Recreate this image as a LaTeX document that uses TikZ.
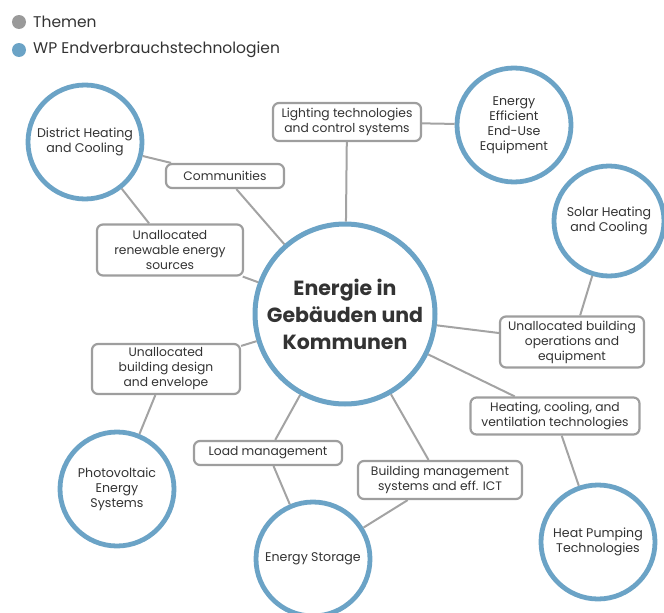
\documentclass[tikz,border=0pt]{standalone}
\usepackage{fontspec}
\setmainfont{Poppins}
\definecolor{wpblue}{HTML}{6BA3C6}
\definecolor{boxgray}{HTML}{9E9E9E}
\definecolor{linkgray}{HTML}{A3A3A3}
\definecolor{dotgray}{HTML}{9A9A9A}
\definecolor{txt}{HTML}{333333}
\begin{document}
\begin{tikzpicture}[x=1pt,y=-1pt,
  topic/.style={draw=boxgray, line width=2.2pt, rounded corners=6pt, fill=white,
    align=center, text=txt, font=\fontsize{12.3}{15}\selectfont, inner sep=0pt},
  wp/.style={circle, draw=wpblue, line width=4.8pt, fill=white, align=center,
    text=txt, font=\fontsize{12.6}{15}\selectfont, inner sep=0pt, minimum size=114pt},
  link/.style={draw=linkgray, line width=2pt},
  legenddot/.style={circle, inner sep=0pt, minimum size=14pt},
  legendtext/.style={anchor=west, text=txt, font=\fontsize{15.5}{18}\selectfont, inner sep=0pt}]
\useasboundingbox (0,0) rectangle (664,613);
\clip (0,0) rectangle (664,613);

% legend
\node[legenddot, fill=dotgray] (dotT) at (19,22) {};
\node[legendtext] (labT) at (33,22) {Themen};
\node[legenddot, fill=wpblue] (dotW) at (19,50) {};
\node[legendtext] (labW) at (33,50) {WP Endverbrauchstechnologien};

% central theme
\node[wp, minimum size=180pt, line width=5pt,
  font=\bfseries\fontsize{20.5}{27}\selectfont] (hub) at (345,314)
  {Energie in\\Gebäuden und\\Kommunen};

% work-package circles
\node[wp] (dhc) at (85,142) {District Heating\\and Cooling};
\node[wp] (eee) at (514,125) {Energy\\Efficient\\End-Use\\Equipment};
\node[wp, minimum size=110pt] (shc) at (609,221) {Solar Heating\\and Cooling};
\node[wp] (pv)  at (117,489) {Photovoltaic\\Energy\\Systems};
\node[wp] (es)  at (313,559) {Energy Storage};
\node[wp] (hp)  at (598,542) {Heat Pumping\\Technologies};

% topic boxes
\node[topic, minimum width=148pt, minimum height=38pt] (light) at (347,122)
  {Lighting technologies\\and control systems};
\node[topic, minimum width=118pt, minimum height=24pt] (comm) at (225,176)
  {Communities};
\node[topic, minimum width=146pt, minimum height=51pt] (renew) at (170,250)
  {Unallocated\\renewable energy\\sources};
\node[topic, minimum width=144pt, minimum height=51pt] (ops) at (572,342)
  {Unallocated building\\operations and\\equipment};
\node[topic, minimum width=148pt, minimum height=50pt] (design) at (166,369)
  {Unallocated\\building design\\and envelope};
\node[topic, minimum width=169pt, minimum height=37pt] (hvac) at (555,416)
  {Heating, cooling, and\\ventilation technologies};
\node[topic, minimum width=148pt, minimum height=24pt] (load) at (268,453)
  {Load management};
\node[topic, minimum width=164pt, minimum height=38pt] (bms) at (440,480)
  {Building management\\systems and eff. ICT};

% connectors
\draw[link] (hub) -- (light);
\draw[link] (light) -- (eee);
\draw[link] (hub) -- (comm);
\draw[link] (comm) -- (dhc);
\draw[link] (hub) -- (renew);
\draw[link] (renew) -- (dhc);
\draw[link] (hub) -- (ops);
\draw[link] (ops) -- (shc);
\draw[link] (hub) -- (hvac);
\draw[link] (hvac) -- (hp);
\draw[link] (hub) -- (design);
\draw[link] (design) -- (pv);
\draw[link] (hub) -- (load);
\draw[link] (load) -- (es);
\draw[link] (hub) -- (bms);
\draw[link] (bms) -- (es);
\end{tikzpicture}
\end{document}
